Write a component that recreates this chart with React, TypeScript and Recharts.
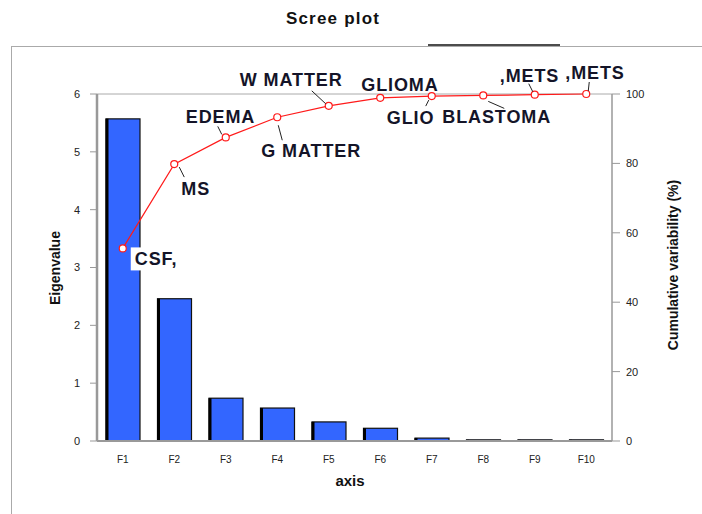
import { ComposedChart, Bar, Line, XAxis, YAxis, ReferenceLine } from "recharts";

const factors = ["F1", "F2", "F3", "F4", "F5", "F6", "F7", "F8", "F9", "F10"];
const eigenvalues = [5.57, 2.46, 0.74, 0.57, 0.33, 0.22, 0.05, 0.02, 0.02, 0.02];
const cumulative = [55.5, 79.8, 87.5, 93.3, 96.6, 98.9, 99.4, 99.6, 99.8, 100];
const pointLabels = ["CSF,", "MS", "EDEMA", "G MATTER", "W MATTER", "GLIOMA", "GLIO", "BLASTOMA", ",METS", ",METS"];
const leftTicks = [0, 1, 2, 3, 4, 5, 6];
const rightTicks = [0, 20, 40, 60, 80, 100];

const data = factors.map((f, i) => ({
  name: f,
  eigen: eigenvalues[i],
  cum: cumulative[i],
  label: pointLabels[i],
}));

// text offset [dx, dy] and leader line [x1, y1, x2, y2] relative to the point
const labelPlacement: { t: [number, number]; l?: [number, number, number, number] }[] = [
  { t: [12, 17] },
  { t: [7, 31], l: [5, 3, 10, 13] },
  { t: [-40, -14], l: [-4, -3, -8, -11] },
  { t: [-16, 40], l: [1, 8, 5, 23] },
  { t: [-89, -20], l: [-3, -2, -17, -15] },
  { t: [-19, -7] },
  { t: [-45, 28], l: [-3, 4, -6, 10] },
  { t: [-41, 28], l: [5, 6, 21, 13] },
  { t: [-35, -13], l: [-2, -3, -6, -11] },
  { t: [-21, -15], l: [2, -3, 3, -12] },
];

const font = "'Liberation Sans', Arial, sans-serif";

const PointLabel = (props: any) => {
  const { x, y, index } = props;
  const p = labelPlacement[index];
  if (!p) return null;
  const tx = x + p.t[0];
  const ty = y + p.t[1];
  return (
    <g>
      {index === 0 && <rect x={tx - 4} y={ty - 18} width={60} height={23} fill="#fff" />}
      {p.l && (
        <line x1={x + p.l[0]} y1={y + p.l[1]} x2={x + p.l[2]} y2={y + p.l[3]} stroke="#222" strokeWidth={1} />
      )}
      <text
        x={tx}
        y={ty}
        fontFamily={font}
        fontWeight="bold"
        fontSize={18}
        letterSpacing={0.9}
        fill="#141428"
      >
        {data[index].label}
      </text>
    </g>
  );
};

const EigenBar = (props: any) => {
  const { x, y, width, height } = props;
  if (!height || height <= 0) return null;
  return (
    <g>
      <rect x={x} y={y} width={width} height={height} fill="#3366ff" stroke="#111" strokeWidth={1.2} />
      <line x1={x + 1} y1={y} x2={x + 1} y2={y + height} stroke="#000" strokeWidth={3} />
    </g>
  );
};

export default function App() {
  return (
    <div style={{ position: "absolute", left: 0, top: 0, width: 702, height: 514, background: "#fff" }}>
      <div
        style={{
          position: "absolute",
          left: 11,
          top: 46,
          width: 700,
          height: 470,
          borderLeft: "1.5px solid #aaa",
          borderTop: "1.5px solid #aaa",
        }}
      />
      <ComposedChart
        width={702}
        height={514}
        data={data}
        margin={{ top: 94, right: 50, bottom: 43, left: 57 }}
        style={{ position: "absolute", left: 0, top: 0 }}
      >
        <XAxis
          dataKey="name"
          height={30}
          tickLine={false}
          axisLine={{ stroke: "#999", strokeWidth: 2 }}
          tickMargin={9}
          tick={{ fontSize: 10, fill: "#222", fontFamily: font }}
        />
        <YAxis
          yAxisId="left"
          width={40}
          domain={[0, 6]}
          ticks={leftTicks}
          tickSize={7}
          tickMargin={10}
          axisLine={{ stroke: "#999", strokeWidth: 2.5 }}
          tickLine={{ stroke: "#999" }}
          tick={{ fontSize: 11, fill: "#222", fontFamily: font }}
        />
        <YAxis
          yAxisId="right"
          orientation="right"
          width={40}
          domain={[0, 100]}
          ticks={rightTicks}
          tickSize={8}
          tickMargin={6}
          axisLine={{ stroke: "#999", strokeWidth: 1.5 }}
          tickLine={{ stroke: "#999" }}
          tick={{ fontSize: 11, fill: "#222", fontFamily: font }}
        />
        <ReferenceLine yAxisId="left" y={6} stroke="#aaa" strokeWidth={1} />
        <Bar yAxisId="left" dataKey="eigen" barSize={34} shape={EigenBar} isAnimationActive={false} />
        <Line
          yAxisId="right"
          dataKey="cum"
          type="linear"
          stroke="#ff1a1a"
          strokeWidth={1.2}
          dot={{ r: 3.5, stroke: "#ff1a1a", strokeWidth: 1.2, fill: "#fff" }}
          label={PointLabel}
          isAnimationActive={false}
        />
      </ComposedChart>
      <svg width={702} height={514} style={{ position: "absolute", left: 0, top: 0, pointerEvents: "none" }}>
        <text
          x={333}
          y={24}
          textAnchor="middle"
          fontFamily={font}
          fontWeight="bold"
          fontSize={17}
          letterSpacing={1.2}
          fill="#111"
        >
          Scree plot
        </text>
        <line x1={428} y1={45} x2={560} y2={45} stroke="#111" strokeWidth={1.5} />
        <text
          x={60}
          y={268}
          textAnchor="middle"
          transform="rotate(-90 60 268)"
          fontFamily={font}
          fontWeight="bold"
          fontSize={14}
          fill="#111"
        >
          Eigenvalue
        </text>
        <text
          x={678}
          y={265}
          textAnchor="middle"
          transform="rotate(-90 678 265)"
          fontFamily={font}
          fontWeight="bold"
          fontSize={14}
          fill="#111"
        >
          Cumulative variability (%)
        </text>
        <text x={350} y={486} textAnchor="middle" fontFamily={font} fontWeight="bold" fontSize={15} fill="#111">
          axis
        </text>
      </svg>
    </div>
  );
}
